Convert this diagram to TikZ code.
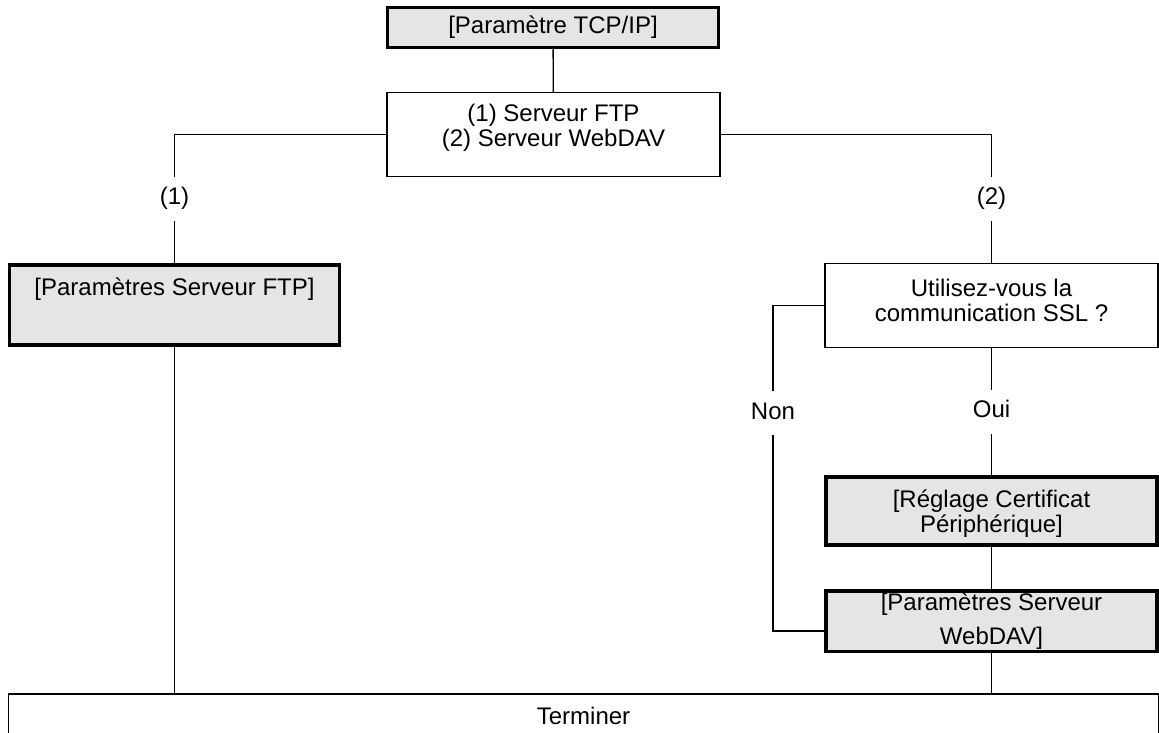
\documentclass[tikz,border=0pt]{standalone}
\usepackage{fontspec}
\setmainfont{Liberation Sans}
\definecolor{boxgray}{gray}{0.9}
\tikzset{
  box/.style={draw, line width=1.3pt, minimum width=333pt, inner sep=0pt, align=center},
  setbox/.style={box, fill=boxgray, line width=3.5pt, minimum width=331pt},
  txt/.style={align=center, inner sep=0pt},
  lbl/.style={fill=white, inner xsep=4pt, inner ysep=11pt, text height=17pt, text depth=5pt},
  link/.style={line width=1.3pt}
}

\begin{document}
\begin{tikzpicture}[x=1pt, y=-1pt, font=\fontsize{24}{25}\selectfont]
    \clip (0,0) rectangle (1159,733);

    % Boxes
    \node[setbox, minimum height=40pt] (tcp) at (553,27.5) {[Paramètre TCP/IP]};
    \node[box, minimum height=84pt] (srv) at (553.5,134.7) {};
    \node[txt] (srv-t) at (553.5,128) {(1) Serveur FTP\\(2) Serveur WebDAV};

    \node[setbox, minimum width=330pt, minimum height=80pt] (ftp) at (174.5,305) {};
    \node[txt, anchor=base] (ftp-t) at (174.5,295) {[Paramètres Serveur FTP]};

    \node[box, minimum height=84.4pt] (ssl) at (991.5,305.5) {};
    \node[txt] (ssl-t) at (991.5,300) {Utilisez-vous la\\communication SSL ?};

    \node[setbox, minimum height=68pt] (cert) at (991.5,511) {};
    \node[txt] (cert-t) at (991.5,514) {[Réglage Certificat\\Périphérique]};
    \node[setbox, minimum height=60.5pt] (wdav) at (991.5,621) {[Paramètres Serveur\\[9pt]WebDAV]};

    \node[box, minimum width=1150pt, minimum height=44pt] (fin) at (583.5,716) {Terminer};

    % Links
    \draw[link] (tcp) -- (srv);
    \draw[link] (srv.west) -| node[lbl, pos=0.75] (one) {(1)} (ftp.north);
    \draw[link] (srv.east) -| node[lbl, pos=0.75] (two) {(2)} (ssl.north);
    \draw[link] (ftp.south) -- (ftp.south |- fin.north);

    \draw[link] (ssl) -- node[lbl] (oui) {Oui} (cert);
    \draw[link] (cert) -- (wdav);
    \draw[link] (wdav.south) -- (wdav.south |- fin.north);

    % Non branch
    \coordinate (nonturn) at (773,413);
    \draw[link] (ssl.west) -| (nonturn) |- ([yshift=-10pt]wdav.west);
    \node[lbl] (non) at (nonturn) {Non};
\end{tikzpicture}
\end{document}
